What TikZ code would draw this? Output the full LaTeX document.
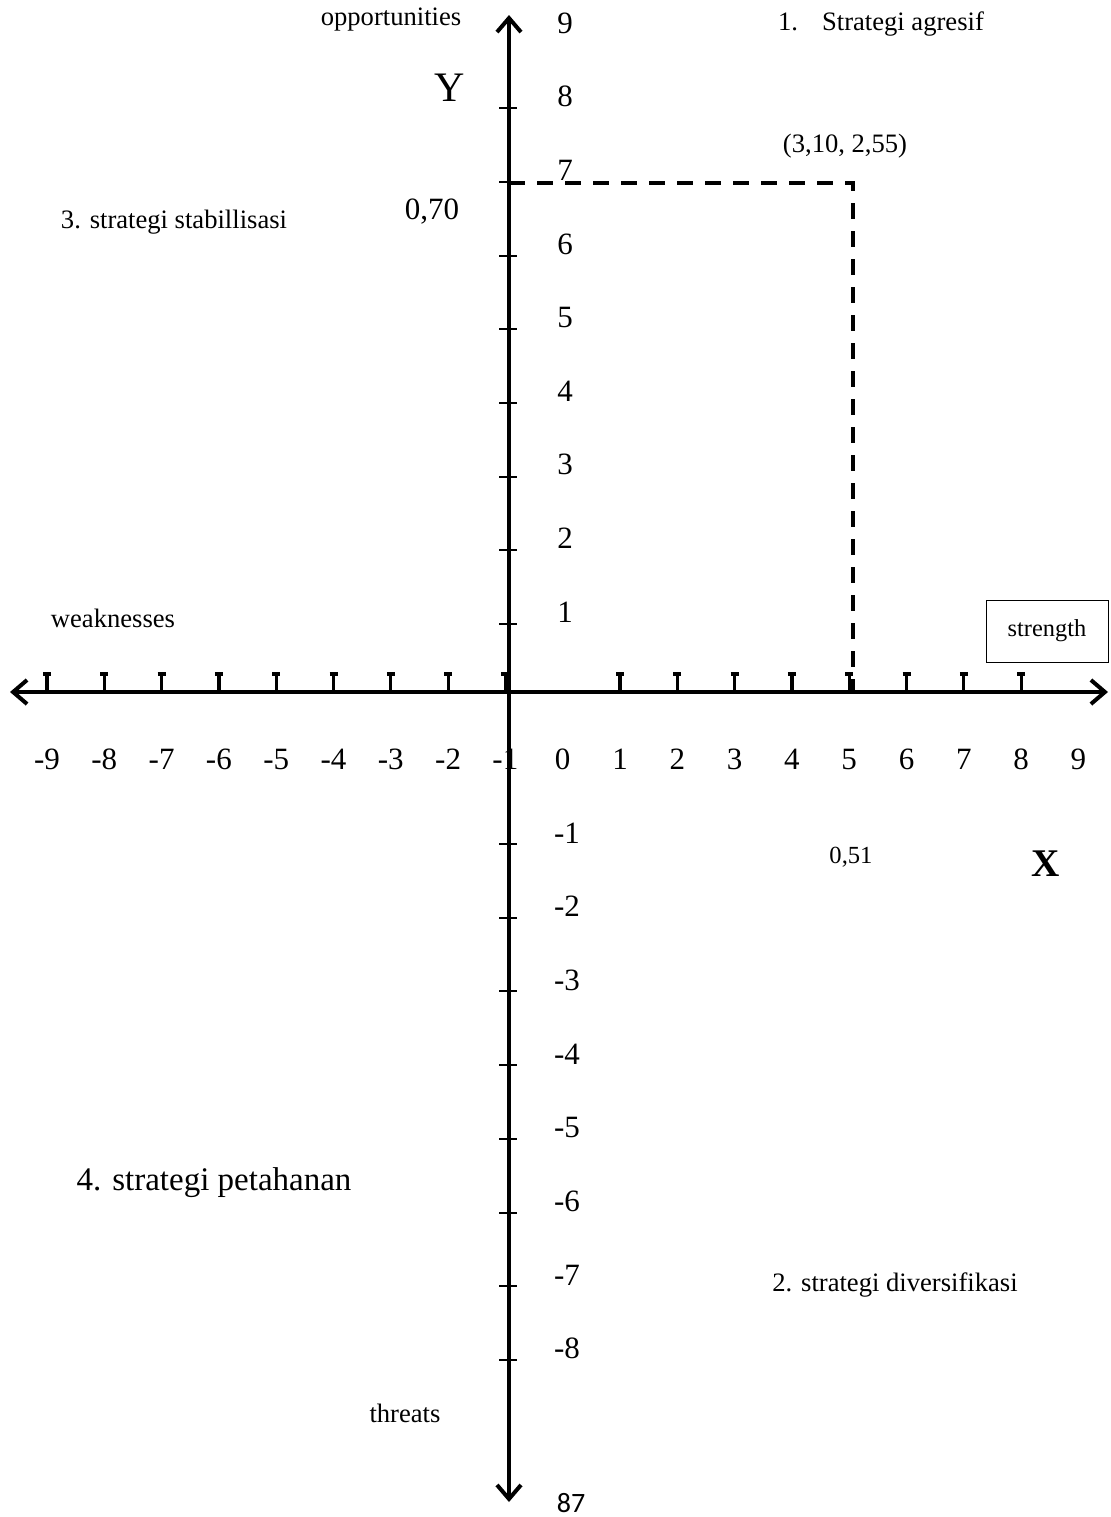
\documentclass[tikz,border=0pt]{standalone}
\usepackage{fontspec}
\setmainfont{Liberation Serif}
\newfontfamily\calfont{Carlito}
\usetikzlibrary{arrows.meta}
\tikzset{
  axisline/.style={
    line width=2pt,
    {Straight Barb[length=7pt,width=12pt]}-{Straight Barb[length=7pt,width=12pt]}
  },
  guide/.style={
    line width=2pt,
    dash pattern=on 8pt off 6pt
  },
  xtick/.style={line width=1.6pt},
  ytick/.style={line width=1pt},
  numlabel/.style={font=\fontsize{15.5}{18}\selectfont, anchor=base, inner sep=0pt},
  note/.style={font=\fontsize{13.3}{16}\selectfont, inner sep=0pt},
  bignote/.style={font=\fontsize{16.5}{20}\selectfont, inner sep=0pt},
  valuenote/.style={font=\fontsize{15.5}{18}\selectfont, inner sep=0pt},
  framed/.style={draw, line width=0.5pt, minimum width=61pt, minimum height=31pt,
    font=\fontsize{12.2}{15}\selectfont}
}

\begin{document}
\begin{tikzpicture}[x=0.5pt, y=-0.5pt]
\useasboundingbox (0,0) rectangle (1110,1517);

\coordinate (west) at (10,692);
\coordinate (east) at (1108,692);
\coordinate (north) at (509,15);
\coordinate (south) at (509,1502);
\coordinate (ycut) at (509,183);
\coordinate (corner) at (853,183);
\coordinate (xcut) at (853,692);

\draw[axisline] (west) -- (east);
\draw[axisline] (south) -- (north);
\draw[guide] (ycut) -- (corner) -- (xcut);

\foreach \k in {-9,...,-1,1,2,...,8}
  \draw[xtick] ({47+57.3*(\k+9)},692) -- ++(0,-18) ++(-4,0) -- ++(8,0);
\foreach \k in {-9,...,9}
  \node[numlabel] (xn\k) at ({47+57.3*(\k+9)},769) {\k};

\foreach \k in {1,...,8}
  \draw[ytick] (499,{624-73.7*(\k-1)}) -- (517,{624-73.7*(\k-1)});
\foreach \k in {1,...,8}
  \draw[ytick] (499,{844+73.7*(\k-1)}) -- (517,{844+73.7*(\k-1)});
\foreach \k in {1,...,9}
  \node[numlabel] (yp\k) at (565,{622-73.6*(\k-1)}) {\k};
\foreach \k in {1,...,8}
  \node[numlabel] (yn\k) at (567,{843+73.7*(\k-1)}) {-\k};

\node[note] (opp) at (391,20) {opportunities};
\node[font=\fontsize{21}{24}\selectfont, inner sep=0pt] (ylabel) at (450,88) {Y};
\node[valuenote] (yval) at (432,212) {0,70};
\node[note] (agr) at (881,24) {1.\hspace{12pt}Strategi agresif};
\node[note] (pt) at (845,146) {(3,10, 2,55)};
\node[note] (stab) at (174,222) {3. strategi stabillisasi};
\node[note] (weak) at (113,618) {weaknesses};
\node[framed] (str) at (1047,631) {strength};
\node[font=\fontsize{12.3}{15}\selectfont, inner sep=0pt] (xval) at (851,857) {0,51};
\node[font=\bfseries\fontsize{19.6}{23}\selectfont, inner sep=0pt] (xlabel) at (1046,864) {X};
\node[bignote] (def) at (214,1183) {4. strategi petahanan};
\node[note] (div) at (895,1285) {2. strategi diversifikasi};
\node[note] (thr) at (405,1413) {threats};
\node[font=\calfont\fontsize{14}{17}\selectfont, inner sep=0pt] (bot) at (571,1503) {87};
\end{tikzpicture}
\end{document}
